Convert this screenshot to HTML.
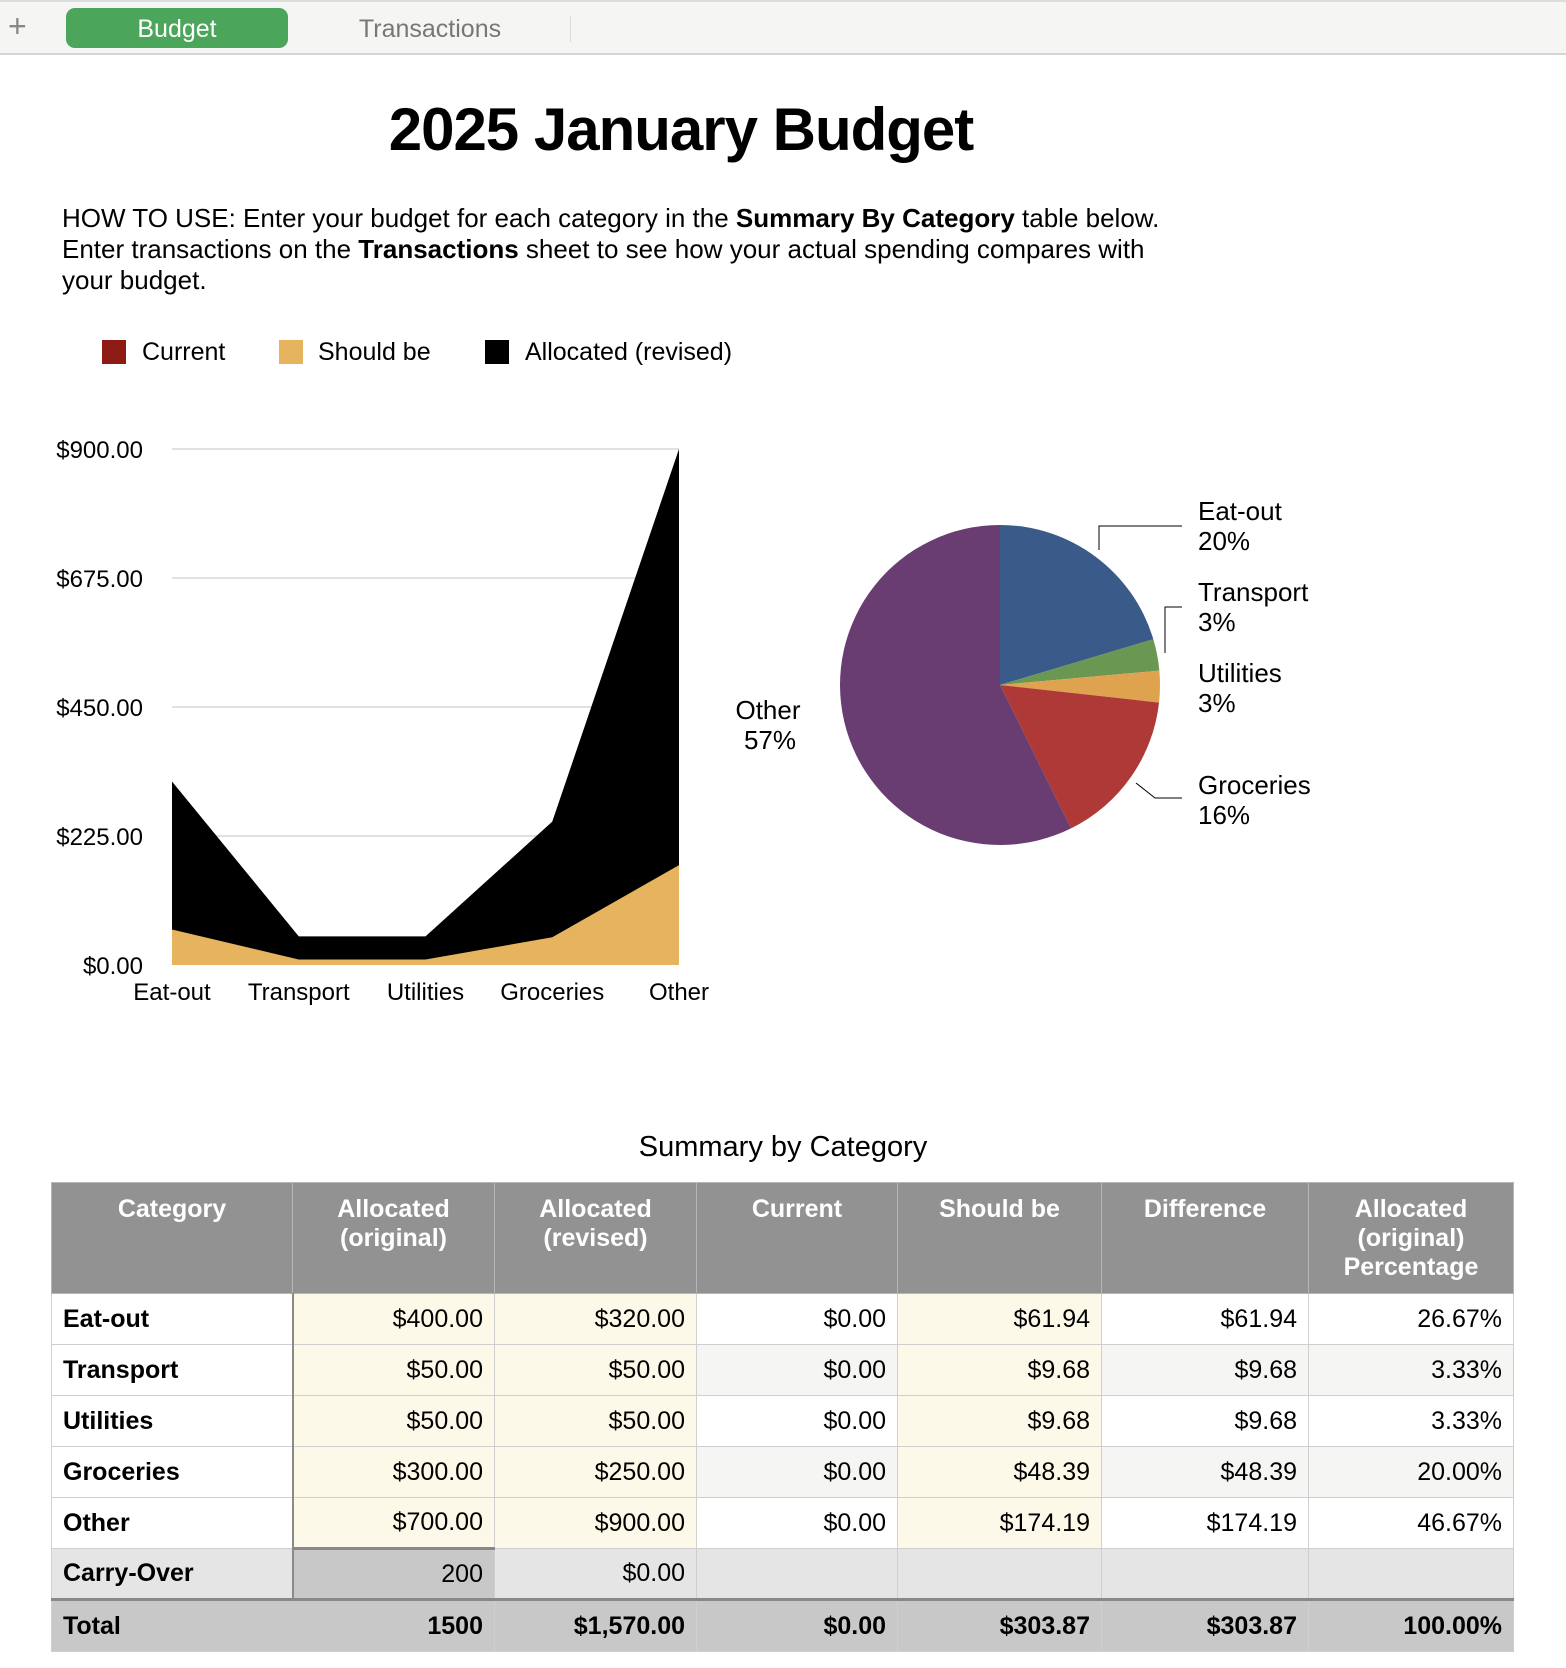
<!DOCTYPE html>
<html><head><meta charset="utf-8">
<style>
*{box-sizing:border-box;margin:0;padding:0}
body{width:1566px;height:1668px;background:#fff;font-family:"Liberation Sans",Arial,sans-serif;color:#000;position:relative;overflow:hidden}
.abs{position:absolute}
#tabbar{left:0;top:0;width:1566px;height:55px;background:#f5f5f3;border-top:2px solid #ddd;border-bottom:2px solid #d4d4d4}
table{border-collapse:collapse;position:absolute;left:51px;top:1182px;width:1462px;table-layout:fixed;font-size:25px}
td,th{border:1px solid #cfcfcf;padding:0 11px;height:51px}
th{background:#929292;color:#fff;font-weight:bold;vertical-align:top;padding-top:12px;height:111px;line-height:29px;border-color:#b5b5b5}
td{text-align:right}
td.c{text-align:left;border-right:2px solid #8a8a8a;font-weight:bold}
.y{background:#fdf9e8}
.g{background:#f5f5f4}
tr.co td{background:#e5e5e5}
tr.co td.d{background:#c8c8c8;border-top:3px solid #888}
tr.tot td{background:#c8c8c8;font-weight:bold;border-top:3px solid #888;height:52px}
</style></head><body>
<div id="tabbar" class="abs">
  <div class="abs" style="left:8px;top:8px;font-size:32px;color:#888;line-height:32px">+</div>
  <div class="abs" style="left:66px;top:6px;width:222px;height:40px;background:#4ba55a;border-radius:9px;color:#fff;font-size:25px;text-align:center;line-height:42px">Budget</div>
  <div class="abs" style="left:340px;top:6px;width:180px;height:40px;color:#777;font-size:25px;text-align:center;line-height:42px">Transactions</div>
  <div class="abs" style="left:570px;top:14px;width:1px;height:26px;background:#ddd"></div>
</div>
<div class="abs" style="left:0;width:1362px;top:95px;text-align:center;font-size:60px;font-weight:bold;letter-spacing:-1px">2025 January Budget</div>
<div class="abs" style="left:62px;top:203px;width:1300px;font-size:26px;line-height:31px;white-space:nowrap">HOW TO USE: Enter your budget for each category in the <b>Summary By Category</b> table below.<br>Enter transactions on the <b>Transactions</b> sheet to see how your actual spending compares with<br>your budget.</div>

<div class="abs" style="left:102px;top:340px;font-size:25px;line-height:24px">
  <span class="abs" style="left:0;top:0;width:24px;height:24px;background:#8e1a15"></span><span class="abs" style="left:40px;top:0;white-space:nowrap">Current</span>
  <span class="abs" style="left:177px;top:0;width:24px;height:24px;background:#e6b35f"></span><span class="abs" style="left:216px;top:0;white-space:nowrap">Should be</span>
  <span class="abs" style="left:383px;top:0;width:24px;height:24px;background:#000"></span><span class="abs" style="left:423px;top:0;white-space:nowrap">Allocated (revised)</span>
</div>

<svg class="abs" style="left:0;top:0" width="1566" height="1100" id="charts" font-family="Liberation Sans, Arial, sans-serif"></svg>

<div class="abs" style="left:0;width:1566px;top:1131px;text-align:center;font-size:29px">Summary by Category</div>
<table>
<colgroup><col style="width:241px"><col style="width:202px"><col style="width:202px"><col style="width:201px"><col style="width:204px"><col style="width:207px"><col style="width:205px"></colgroup>
<tr><th>Category</th><th>Allocated (original)</th><th>Allocated (revised)</th><th>Current</th><th>Should be</th><th>Difference</th><th>Allocated (original) Percentage</th></tr>
<tr><td class="c">Eat-out</td><td class="y">$400.00</td><td class="y">$320.00</td><td>$0.00</td><td class="y">$61.94</td><td>$61.94</td><td>26.67%</td></tr>
<tr><td class="c">Transport</td><td class="y">$50.00</td><td class="y">$50.00</td><td class="g">$0.00</td><td class="y">$9.68</td><td class="g">$9.68</td><td class="g">3.33%</td></tr>
<tr><td class="c">Utilities</td><td class="y">$50.00</td><td class="y">$50.00</td><td>$0.00</td><td class="y">$9.68</td><td>$9.68</td><td>3.33%</td></tr>
<tr><td class="c">Groceries</td><td class="y">$300.00</td><td class="y">$250.00</td><td class="g">$0.00</td><td class="y">$48.39</td><td class="g">$48.39</td><td class="g">20.00%</td></tr>
<tr><td class="c">Other</td><td class="y">$700.00</td><td class="y">$900.00</td><td>$0.00</td><td class="y">$174.19</td><td>$174.19</td><td>46.67%</td></tr>
<tr class="co"><td class="c">Carry-Over</td><td class="d">200</td><td>$0.00</td><td></td><td></td><td></td><td></td></tr>
<tr class="tot"><td class="c" style="border-right-color:#c8c8c8">Total</td><td>1500</td><td>$1,570.00</td><td>$0.00</td><td>$303.87</td><td>$303.87</td><td>100.00%</td></tr>
</table>

<script>
const categories = ["Eat-out","Transport","Utilities","Groceries","Other"];
const allocatedRevised = [320,50,50,250,900];
const shouldBe = [61.94,9.68,9.68,48.39,174.19];
const current = [0,0,0,0,0];
const yTicks = [0,225,450,675,900];
const yTickLabels = ["$0.00","$225.00","$450.00","$675.00","$900.00"];
const pieLabels = ["Eat-out","Transport","Utilities","Groceries","Other"];
const pieValues = [61.94,9.68,9.68,48.39,174.19];

const NS = "http://www.w3.org/2000/svg";
const svg = document.getElementById('charts');
function mk(tag, attrs){const e=document.createElementNS(NS,tag);for(const k in attrs)e.setAttribute(k,attrs[k]);svg.appendChild(e);return e;}

const X0=172, X1=679, Y0=965, Y1=449, YMAX=900;
const xS = i => X0 + i*(X1-X0)/(categories.length-1);
const yS = v => Y0 - v/YMAX*(Y0-Y1);
yTicks.forEach((t,i)=>{
  if(t>0){const l=mk('line',{x1:X0,x2:X1,y1:yS(t),y2:yS(t),stroke:'#cfcfcf','stroke-width':1.3});
  
  }
  const tx=mk('text',{x:143,y:yS(t)+9,'text-anchor':'end','font-size':24});
  tx.textContent=yTickLabels[i];
  
  
});
function area(vals, fill, name){
  let d='M'+xS(0)+','+Y0;
  vals.forEach((v,i)=>{d+=' L'+xS(i)+','+yS(v);});
  d+=' L'+xS(vals.length-1)+','+Y0+' Z';
  const p=mk('path',{d:d,fill:fill});
  
  
}
area(allocatedRevised,'#000','area-allocated-revised');
area(shouldBe,'#e6b35f','area-should-be');
area(current,'#8e1a15','area-current');
categories.forEach((c,i)=>{
  const t=mk('text',{x:xS(i),y:1000,'text-anchor':'middle','font-size':24});
  t.textContent=c;
  
  
});

const CX=1000, CY=685, R=160;
const colors=['#3a5a89','#6a9852','#dfa350','#ae3937','#6a3d72'];
const total=pieValues.reduce((a,b)=>a+b,0);
let ang=0;
pieValues.forEach((v,i)=>{
  const a0=ang, a1=ang+v/total*2*Math.PI; ang=a1;
  const x0=CX+R*Math.sin(a0), y0=CY-R*Math.cos(a0), x1=CX+R*Math.sin(a1), y1=CY-R*Math.cos(a1);
  const large=(a1-a0)>Math.PI?1:0;
  const p=mk('path',{d:`M${CX},${CY} L${x0},${y0} A${R},${R} 0 ${large} 1 ${x1},${y1} Z`,fill:colors[i]});
  
  
});
const labelPos=[[1198,520],[1198,601],[1198,682],[1198,794],[768,719]];
pieLabels.forEach((l,i)=>{
  const pct=Math.round(pieValues[i]/total*100)+'%';
  const anchor = i===4?'middle':'start';
  const t1=mk('text',{x:labelPos[i][0],y:labelPos[i][1],'font-size':26,'text-anchor':anchor});
  t1.textContent=l;
  
  
  const t2=mk('text',{x:labelPos[i][0]+(i===4?2:0),y:labelPos[i][1]+30,'font-size':26,'text-anchor':anchor});
  t2.textContent=pct;
  
  
});
const leaders=["1099,550 1099,526 1182,526","1165,653 1165,607 1182,607","1136,783 1155,798 1182,798"];
leaders.forEach(pts=>{
  const pl=mk('polyline',{points:pts,fill:'none',stroke:'#000','stroke-width':1});
  
  
});
</script>
</body></html>
